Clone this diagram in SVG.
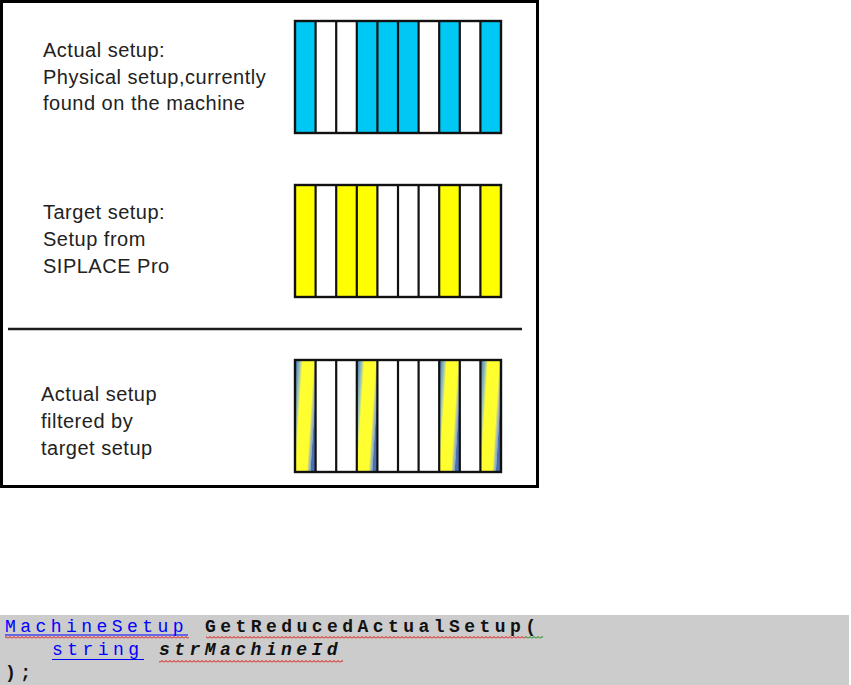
<svg xmlns="http://www.w3.org/2000/svg" width="851" height="685" viewBox="0 0 851 685">
<style>
.lbl{font-family:"Liberation Sans",Arial,sans-serif;font-size:20px;letter-spacing:0.5px;fill:#222}
.code{font-family:"Courier New","Nimbus Mono PS","Nimbus Mono L","FreeMono","Liberation Mono",monospace;font-size:18px;letter-spacing:4.45px}
.kw{fill:#0000ff}
.b{fill:#111;font-weight:bold}
.bi{fill:#111;font-weight:bold;font-style:italic}
.blue{fill:#00c8f4}
.yel{fill:#ffff00}
.mix{fill:url(#mixg)}
.wht{fill:#ffffff}
.div{stroke:#111;stroke-width:2.2}
.frame{fill:none;stroke:#111;stroke-width:2.4}
.ul{stroke:#0000ff;stroke-width:1.2}
</style>
<defs>
<linearGradient id="mixg" x1="0" y1="0" x2="1" y2="0.35">
<stop offset="0" stop-color="#2a4a9a"/>
<stop offset="0.08" stop-color="#5a8cb8"/>
<stop offset="0.24" stop-color="#a8ccb0"/>
<stop offset="0.33" stop-color="#ffff30"/>
<stop offset="0.82" stop-color="#ffff30"/>
<stop offset="0.9" stop-color="#b8c4a4"/>
<stop offset="0.98" stop-color="#80a4c4"/>
<stop offset="1.1" stop-color="#4a70b4"/>
</linearGradient>
<pattern id="waveR" x="0" y="0" width="4" height="3" patternUnits="userSpaceOnUse">
<path d="M0 2.5L2 0.5L4 2.5" fill="none" stroke="#e00000" stroke-width="1"/>
</pattern>
<pattern id="waveG" x="0" y="0" width="4" height="3" patternUnits="userSpaceOnUse">
<path d="M0 2.5L2 0.5L4 2.5" fill="none" stroke="#008000" stroke-width="1"/>
</pattern>
</defs>
<rect x="0" y="0" width="851" height="685" fill="#ffffff"/>

<rect id="outer-frame" x="1.5" y="1.5" width="536" height="485" fill="none" stroke="#000" stroke-width="3"/>

<g id="actual-setup">
<text class="lbl" x="43" y="57">Actual setup:</text>
<text class="lbl" x="43" y="83.5">Physical setup,currently</text>
<text class="lbl" x="43" y="110">found on the machine</text>
<g id="actual-strip">
<rect class="blue" x="295" y="21" width="20.6" height="112"/>
<rect class="wht" x="315.6" y="21" width="41.2" height="112"/>
<rect class="blue" x="356.8" y="21" width="61.8" height="112"/>
<rect class="wht" x="418.6" y="21" width="20.6" height="112"/>
<rect class="blue" x="439.2" y="21" width="20.6" height="112"/>
<rect class="wht" x="459.8" y="21" width="20.6" height="112"/>
<rect class="blue" x="480.4" y="21" width="20.6" height="112"/>
<path class="div" d="M315.6 21V133M336.2 21V133M356.8 21V133M377.4 21V133M398 21V133M418.6 21V133M439.2 21V133M459.8 21V133M480.4 21V133"/>
<rect class="frame" x="295" y="21" width="206" height="112"/>
</g>
</g>

<g id="target-setup">
<text class="lbl" x="43" y="219">Target setup:</text>
<text class="lbl" x="43" y="246">Setup from</text>
<text class="lbl" x="43" y="273">SIPLACE Pro</text>
<g id="target-strip">
<rect class="wht" x="295" y="185" width="206" height="112"/>
<rect class="yel" x="295" y="185" width="20.6" height="112"/>
<rect class="yel" x="336.2" y="185" width="41.2" height="112"/>
<rect class="yel" x="439.2" y="185" width="20.6" height="112"/>
<rect class="yel" x="480.4" y="185" width="20.6" height="112"/>
<path class="div" d="M315.6 185V297M336.2 185V297M356.8 185V297M377.4 185V297M398 185V297M418.6 185V297M439.2 185V297M459.8 185V297M480.4 185V297"/>
<rect class="frame" x="295" y="185" width="206" height="112"/>
</g>
</g>

<line id="separator" x1="8" y1="329" x2="522" y2="329" stroke="#1a1a1a" stroke-width="2.5"/>

<g id="filtered-setup">
<text class="lbl" x="41" y="401">Actual setup</text>
<text class="lbl" x="41" y="428">filtered by</text>
<text class="lbl" x="41" y="455">target setup</text>
<g id="filtered-strip">
<rect class="wht" x="295" y="360" width="206" height="112"/>
<rect class="mix" x="295" y="360" width="20.6" height="112"/>
<rect class="mix" x="356.8" y="360" width="20.6" height="112"/>
<rect class="mix" x="439.2" y="360" width="20.6" height="112"/>
<rect class="mix" x="480.4" y="360" width="20.6" height="112"/>
<path class="div" d="M315.6 360V472M336.2 360V472M356.8 360V472M377.4 360V472M398 360V472M418.6 360V472M439.2 360V472M459.8 360V472M480.4 360V472"/>
<rect class="frame" x="295" y="360" width="206" height="112"/>
</g>
</g>

<g id="code-block">
<rect x="0" y="615" width="849" height="70" fill="#cccccc"/>
<text class="code kw" x="5" y="632">MachineSetup</text>
<text class="code b" x="205" y="632">GetReducedActualSetup(</text>
<text class="code kw" x="52" y="655">string</text>
<text class="code bi" x="159" y="655">strMachineId</text>
<text class="code b" x="5" y="678">);</text>
<line class="ul" x1="5" y1="635" x2="188" y2="635"/>
<line class="ul" x1="52" y1="659.5" x2="144" y2="659.5"/>
<rect x="5" y="636" width="184" height="3" fill="url(#waveR)"/>
<rect x="206" y="636" width="320" height="3" fill="url(#waveR)"/>
<rect x="526" y="636" width="17" height="3" fill="url(#waveG)"/>
<rect x="159" y="660" width="184" height="3" fill="url(#waveR)"/>
</g>
</svg>
